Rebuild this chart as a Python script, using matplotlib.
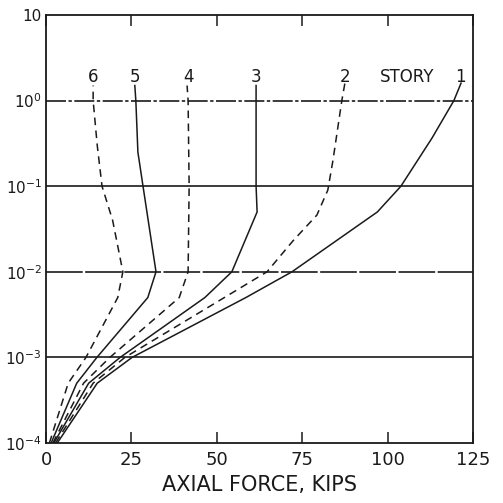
import matplotlib
matplotlib.use("Agg")
import matplotlib.pyplot as plt

# ---- data ----
story6_x = [1.0, 6.5, 11.7, 21.0, 22.5, 19.5, 16.4, 15.0, 13.8, 13.8]
story6_y = [1e-4, 5e-4, 1e-3, 5e-3, 1e-2, 4e-2, 1e-1, 3e-1, 1.0, 1.5]

story5_x = [1.5, 9.0, 14.9, 29.8, 32.2, 28.4, 26.9, 26.3, 26.0]
story5_y = [1e-4, 5e-4, 1e-3, 5e-3, 1e-2, 1e-1, 2.5e-1, 1.0, 1.5]

story4_x = [2.0, 11.0, 18.7, 39.0, 41.6, 41.9, 41.6, 41.3]
story4_y = [1e-4, 5e-4, 1e-3, 5e-3, 1e-2, 1e-1, 1.0, 1.5]

story3_x = [2.3, 12.5, 21.7, 46.5, 54.4, 61.8, 61.5, 61.5, 61.5]
story3_y = [1e-4, 5e-4, 1e-3, 5e-3, 1e-2, 5e-2, 1e-1, 1.0, 1.5]

story2_x = [2.8, 13.8, 23.1, 52.2, 64.7, 72.3, 79.3, 82.5, 84.0, 86.6, 87.5]
story2_y = [1e-4, 5e-4, 1e-3, 5e-3, 1e-2, 2.3e-2, 4.6e-2, 9e-2, 2e-1, 1.0, 1.6]

story1_x = [3.3, 15.0, 25.2, 58.5, 72.0, 97.0, 103.9, 113.0, 119.4, 121.5]
story1_y = [1e-4, 5e-4, 1e-3, 5e-3, 1e-2, 5e-2, 1e-1, 3.65e-1, 1.0, 1.6]

story_labels = ["6", "5", "4", "3", "2", "STORY", "1"]
story_label_x = [13.8, 26.0, 41.6, 61.5, 87.5, 105.7, 121.2]
story_label_y = 1.9

x_ticks = [0, 25, 50, 75, 100, 125]
x_ticklabels = ["0", "25", "50", "75", "100", "125"]
y_ticks = [1e-4, 1e-3, 1e-2, 1e-1, 1e0, 1e1]
y_ticklabels = [r"$10^{-4}$", r"$10^{-3}$", r"$10^{-2}$", r"$10^{-1}$", r"$10^{0}$", "10"]
x_label = "AXIAL FORCE, KIPS"

# ---- figure ----
plt.rcParams['mathtext.fontset'] = 'dejavusans'
fig = plt.figure(figsize=(5.03, 5.03), dpi=100)
ax = fig.add_axes([46/503, 1-443/503, (473-46)/503, (443-15)/503])
ink = '#1a1a1a'

ax.set_yscale('log')
ax.set_xlim(0, 125)
ax.set_ylim(1e-4, 10)

# gridlines at decades
for yv in [1e-3, 1e-1]:
    ax.axhline(yv, color=ink, lw=1.2, zorder=1)
ax.axhline(1e-2, color=ink, lw=1.2, ls=(0, (22, 1.5)), zorder=1)
ax.axhline(1.0, color=ink, lw=1.2, ls=(0, (12, 1.5, 2, 1.5)), zorder=1)

dash = (0, (5, 3.5))
ax.plot(story6_x, story6_y, color=ink, lw=1.1, ls=dash)
ax.plot(story5_x, story5_y, color=ink, lw=1.1)
ax.plot(story4_x, story4_y, color=ink, lw=1.1, ls=dash)
ax.plot(story3_x, story3_y, color=ink, lw=1.1)
ax.plot(story2_x, story2_y, color=ink, lw=1.1, ls=dash)
ax.plot(story1_x, story1_y, color=ink, lw=1.1)

for lab, xv in zip(story_labels, story_label_x):
    ax.text(xv, story_label_y, lab, ha='center', va='center', fontsize=12, color=ink)

for s in ax.spines.values():
    s.set_color(ink)
    s.set_linewidth(1.3)

ax.set_xticks(x_ticks)
ax.set_xticklabels(x_ticklabels, fontsize=13, color=ink)
ax.set_yticks(y_ticks)
ax.set_yticklabels(y_ticklabels, fontsize=11, color=ink)
ax.minorticks_off()
ax.tick_params(axis='x', direction='in', length=8, width=1.1, top=True, pad=6, color=ink)
ax.tick_params(axis='y', length=0, pad=3)
ax.set_xlabel(x_label, fontsize=15, color=ink, labelpad=4)

fig.savefig("out.png", dpi=100, facecolor='white')
